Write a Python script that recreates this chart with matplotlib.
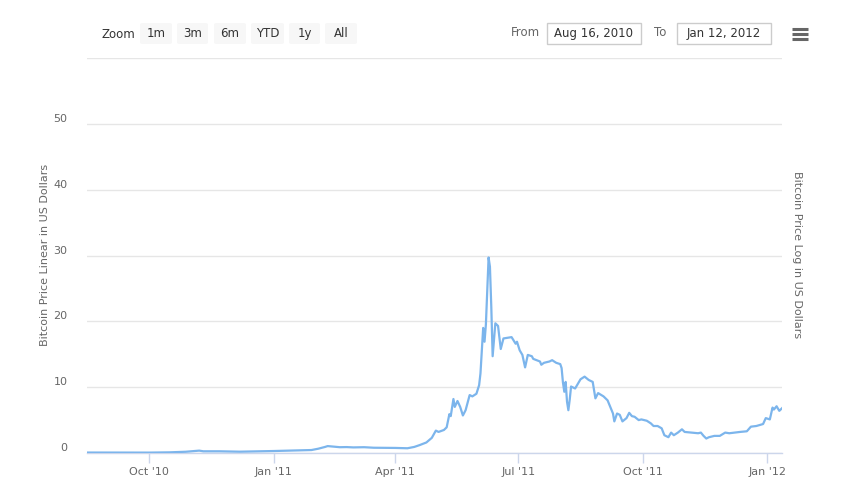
import numpy as np
import pandas as pd
import matplotlib
matplotlib.use('Agg')
import matplotlib.pyplot as plt
import matplotlib.dates as mdates
from matplotlib.transforms import ScaledTranslation
from matplotlib.patches import FancyBboxPatch, Rectangle

plt.rcParams['font.family'] = ['DejaVu Sans']

# price readings (USD) taken off the reference chart
dates = ['2010-08-16', '2010-09-09', '2010-10-01', '2010-10-16', '2010-10-28', '2010-11-07',
         '2010-11-10', '2010-11-22', '2010-12-07', '2010-12-21', '2011-01-01', '2011-01-15',
         '2011-01-29', '2011-02-03', '2011-02-08', '2011-02-10', '2011-02-15', '2011-02-19',
         '2011-02-24', '2011-03-01', '2011-03-09', '2011-03-16', '2011-03-24', '2011-04-01',
         '2011-04-10', '2011-04-15', '2011-04-19', '2011-04-24', '2011-04-28', '2011-05-01',
         '2011-05-03', '2011-05-07', '2011-05-09', '2011-05-11', '2011-05-12', '2011-05-14',
         '2011-05-15', '2011-05-17', '2011-05-19', '2011-05-21', '2011-05-23', '2011-05-26',
         '2011-05-28', '2011-05-31', '2011-06-02', '2011-06-03', '2011-06-05', '2011-06-06',
         '2011-06-07', '2011-06-09', '2011-06-10', '2011-06-11', '2011-06-12', '2011-06-14',
         '2011-06-16', '2011-06-18', '2011-06-20', '2011-06-26', '2011-06-29', '2011-06-30',
         '2011-07-02', '2011-07-04', '2011-07-06', '2011-07-08', '2011-07-11', '2011-07-12',
         '2011-07-17', '2011-07-18', '2011-07-20', '2011-07-24', '2011-07-26', '2011-07-29',
         '2011-08-01', '2011-08-02', '2011-08-03', '2011-08-04', '2011-08-05', '2011-08-06',
         '2011-08-07', '2011-08-08', '2011-08-09', '2011-08-12', '2011-08-16', '2011-08-19',
         '2011-08-22', '2011-08-25', '2011-08-27', '2011-08-29', '2011-09-02', '2011-09-05',
         '2011-09-07', '2011-09-09', '2011-09-10', '2011-09-12', '2011-09-14', '2011-09-16',
         '2011-09-19', '2011-09-21', '2011-09-23', '2011-09-25', '2011-09-28', '2011-09-30',
         '2011-10-04', '2011-10-07', '2011-10-09', '2011-10-12', '2011-10-15', '2011-10-17',
         '2011-10-20', '2011-10-22', '2011-10-24', '2011-10-27', '2011-10-30', '2011-11-01',
         '2011-11-06', '2011-11-11', '2011-11-13', '2011-11-15', '2011-11-17', '2011-11-19',
         '2011-11-23', '2011-11-27', '2011-12-01', '2011-12-04', '2011-12-08', '2011-12-12',
         '2011-12-17', '2011-12-20', '2011-12-24', '2011-12-29', '2011-12-31', '2012-01-03',
         '2012-01-05', '2012-01-06', '2012-01-08', '2012-01-10', '2012-01-12']
prices = [0.07, 0.06, 0.06, 0.10, 0.19, 0.36,
          0.26, 0.26, 0.20, 0.25, 0.30, 0.38,
          0.45, 0.65, 0.92, 1.05, 0.95, 0.88,
          0.90, 0.85, 0.88, 0.80, 0.78, 0.77,
          0.72, 0.92, 1.2, 1.6, 2.3, 3.4,
          3.2, 3.5, 3.9, 5.9, 5.6, 8.2,
          7.0, 7.9, 7.0, 5.7, 6.5, 8.8,
          8.6, 9.0, 10.3, 12.1, 19.0, 16.9,
          19.5, 29.7, 28.3, 22.2, 14.7, 19.7,
          19.3, 15.8, 17.4, 17.6, 16.6, 16.9,
          15.6, 14.9, 13.0, 14.9, 14.7, 14.3,
          13.9, 13.4, 13.7, 13.9, 14.1, 13.7,
          13.5, 12.9, 10.7, 9.3, 10.8, 7.8,
          6.5, 8.1, 10.1, 9.8, 11.2, 11.6,
          11.1, 10.8, 8.3, 9.1, 8.6, 8.0,
          7.0, 6.0, 4.8, 6.0, 5.8, 4.8,
          5.3, 6.1, 5.6, 5.5, 5.0, 5.1,
          4.9, 4.5, 4.1, 4.1, 3.75, 2.7,
          2.4, 3.1, 2.7, 3.1, 3.6, 3.2,
          3.1, 3.0, 3.1, 2.6, 2.2, 2.4,
          2.6, 2.6, 3.1, 3.0, 3.1, 3.2,
          3.3, 4.0, 4.1, 4.4, 5.3, 5.1,
          6.9, 6.6, 7.1, 6.4, 6.8]

y_ticks = [0, 10, 20, 30, 40, 50, 60]
x_ticks = ['2010-10-01', '2011-01-01', '2011-04-01', '2011-07-01', '2011-10-01', '2012-01-01']
x_labels = ["Oct '10", "Jan '11", "Apr '11", "Jul '11", "Oct '11", "Jan '12"]
zoom_buttons = ['1m', '3m', '6m', 'YTD', '1y', 'All']
range_from = 'Aug 16, 2010'
range_to = 'Jan 12, 2012'

W, H = 860, 501
fig = plt.figure(figsize=(W / 100, H / 100), dpi=100)
ax = fig.add_axes([87 / W, (H - 453) / H, (782 - 87) / W, (453 - 58) / H])

d = pd.to_datetime(dates)
ax.plot(d, prices, color='#7cb5ec', lw=1.6, solid_joinstyle='round', zorder=3)

ax.set_xlim(pd.Timestamp('2010-08-16'), pd.Timestamp('2012-01-12'))
ax.set_ylim(0, 60)

ax.set_yticks(y_ticks)
ax.set_yticklabels([str(v) for v in y_ticks[:-1]] + [''])
ax.tick_params(axis='y', length=0, pad=14, labelsize=8, labelcolor='#666666')
for lab in ax.get_yticklabels():
    lab.set_transform(lab.get_transform() + ScaledTranslation(0, 6 / 100, fig.dpi_scale_trans))
ax.grid(axis='y', color='#e6e6e6', lw=1)

ax.set_xticks(pd.to_datetime(x_ticks))
ax.set_xticklabels(x_labels)
ax.tick_params(axis='x', length=7, width=1, color='#ccd6eb', pad=3,
               labelsize=8, labelcolor='#666666')

for s in ['top', 'left', 'right']:
    ax.spines[s].set_visible(False)
ax.spines['bottom'].set_color('#ccd6eb')
ax.spines['bottom'].set_linewidth(1)

fig.text(45 / W, 1 - 255 / H, 'Bitcoin Price Linear in US Dollars', rotation=90,
         ha='center', va='center', fontsize=8, color='#666666')
fig.text(797 / W, 1 - 255 / H, 'Bitcoin Price Log in US Dollars', rotation=270,
         ha='center', va='center', fontsize=8, color='#666666')

# range selector row
def px(x, y):
    return x / W, 1 - y / H

fig.text(*px(118, 34), 'Zoom', ha='center', va='center', fontsize=8.5, color='#333333')
btn_x = [140, 177, 214, 251, 289, 325]
btn_w = [32, 31, 32, 33, 31, 32]
for bx, bw, lab in zip(btn_x, btn_w, zoom_buttons):
    fig.patches.append(FancyBboxPatch(px(bx, 44), bw / W, 21 / H,
                                      boxstyle='round,pad=0,rounding_size=0.003',
                                      transform=fig.transFigure, fc='#f7f7f7', ec='none'))
    fig.text(*px(bx + bw / 2, 33.5), lab, ha='center', va='center',
             fontsize=8.5, color='#333333')

fig.text(*px(525, 33), 'From', ha='center', va='center', fontsize=8.5, color='#666666')
fig.text(*px(660, 33), 'To', ha='center', va='center', fontsize=8.5, color='#666666')
for bx, txt in [(547, range_from), (677, range_to)]:
    fig.patches.append(Rectangle(px(bx, 44), 94 / W, 21 / H, transform=fig.transFigure,
                                 fc='white', ec='#cccccc', lw=1))
    fig.text(*px(bx + 47, 33.5), txt, ha='center', va='center', fontsize=8.5, color='#333333')

# menu icon
for yy in [29, 34, 39]:
    fig.lines.append(plt.Line2D([792 / W, 808 / W], [1 - yy / H] * 2, transform=fig.transFigure,
                                color='#666666', lw=2.2, solid_capstyle='butt'))

fig.savefig('out.png', dpi=100, facecolor='white')
